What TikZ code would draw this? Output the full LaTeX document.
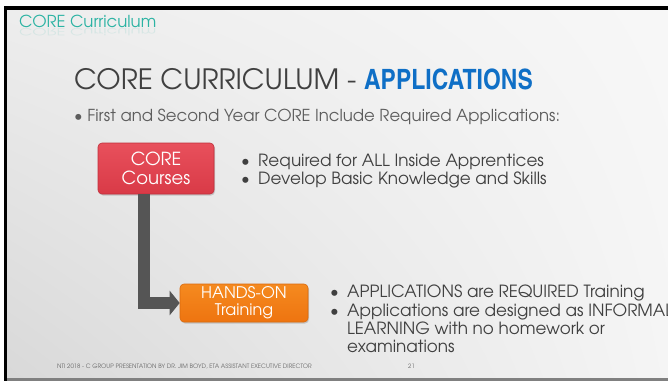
\documentclass[tikz,border=0pt]{standalone}
\usepackage{fontspec}
\setmainfont{texgyreadventor}[Extension=.otf,UprightFont=*-regular,BoldFont=*-bold]
\newfontfamily\condbold{texgyreheroscn}[Extension=.otf,UprightFont=*-bold]
\usetikzlibrary{arrows.meta,shadows,shadings}
\definecolor{txtgray}{HTML}{404040}
\definecolor{headteal}{HTML}{2BB3A3}
\definecolor{appblue}{HTML}{0F6FC6}
\definecolor{redtop}{HTML}{E8505C}
\definecolor{redbot}{HTML}{D93A47}
\definecolor{rededge}{HTML}{C0303C}
\definecolor{orgtop}{HTML}{F58A1F}
\definecolor{orgbot}{HTML}{EE7410}
\definecolor{orgedge}{HTML}{D96A0E}
\definecolor{conngray}{HTML}{555555}
\tikzset{
  txt/.style={anchor=base west,inner sep=0pt,text=txtgray},
  side/.style={txt,font=\fontsize{16.8}{18}\selectfont},
  boxbase/.style={rounded corners=4pt,text=white,align=center,inner sep=0pt,
    drop shadow={opacity=0.35,shadow xshift=1pt,shadow yshift=-1.5pt}},
  redbox/.style={boxbase,top color=redtop,bottom color=redbot,draw=rededge,line width=0.6pt,
    font=\fontsize{18}{19}\selectfont},
  orgbox/.style={boxbase,top color=orgtop,bottom color=orgbot,draw=orgedge,line width=0.6pt,
    font=\fontsize{16}{17}\selectfont},
  conn/.style={draw=conngray,line width=12pt,line join=miter,
    -{Triangle[width=24pt,length=10pt]}},
}
\begin{document}
\begin{tikzpicture}[x=1pt,y=-1pt]
\useasboundingbox (0,0) rectangle (668,381);
\fill[white] (0,0) rectangle (668,381);
% slide frame
\fill[black] (4,6) rectangle (668,381);
\shade[upper left=white!93!black,upper right=white!97!black,lower left=white!85!black,lower right=white!96!black]
  (7,10) rectangle (668,378);
\fill[gray] (7,378) rectangle (668,381);
% header
\node[txt,text=headteal,font=\fontsize{16.5}{18}\selectfont] (hdr) at (19,27) {CORE Curriculum};
\node[txt,text=headteal,opacity=0.12,yscale=-0.6,font=\fontsize{16.5}{18}\selectfont] (hdrrefl) at (19,28) {CORE Curriculum};
% title
\node[txt,font=\fontsize{28}{30}\selectfont] (title) at (74,89)
  {CORE CURRICULUM - {\condbold\color{appblue}APPLICATIONS}};
% main bullet
\node[txt,font=\fontsize{16.5}{18}\selectfont,text=txtgray!85] (b0) at (74,121)
  {\textbullet\ First and Second Year CORE Include Required Applications:};
% boxes
\node[redbox,minimum width=116pt,minimum height=51pt] (core) at (156,168.5) {CORE\\Courses};
\node[orgbox,minimum width=128pt,minimum height=38pt] (hands) at (244,303) {HANDS-ON\\Training};
% connector
\draw[conn] ([xshift=-12pt]core.south) |- (hands.west);
% bullets right of core
\node[side] (r1) at (241,166) {\textbullet};
\node[side] (r1t) at (258,166) {Required for ALL Inside Apprentices};
\node[side] (r2) at (241,184) {\textbullet};
\node[side] (r2t) at (258,184) {Develop Basic Knowledge and Skills};
% bullets right of hands-on
\node[side] (h1) at (330,297) {\textbullet};
\node[side] (h1t) at (347,297) {APPLICATIONS are REQUIRED Training};
\node[side] (h2) at (330,316) {\textbullet};
\node[side] (h2t) at (347,316) {Applications are designed as INFORMAL};
\node[side] (h3t) at (347,334) {LEARNING with no homework or};
\node[side] (h4t) at (347,352) {examinations};
% footer
\node[txt,font=\fontsize{6}{7}\selectfont,text=txtgray!80] (foot) at (57,368)
  {NTI 2018 - C GROUP PRESENTATION BY DR. JIM BOYD, ETA ASSISTANT EXECUTIVE DIRECTOR};
\node[txt,font=\fontsize{6}{7}\selectfont,text=txtgray!80] (pg) at (408,368) {21};
\end{tikzpicture}
\end{document}
